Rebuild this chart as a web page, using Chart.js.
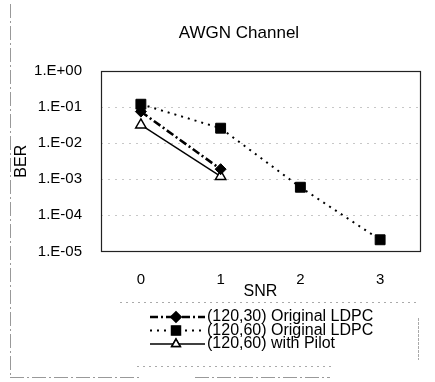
<!DOCTYPE html>
<html>
<head>
<meta charset="utf-8">
<script src="https://cdn.jsdelivr.net/npm/chart.js@4/dist/chart.umd.min.js"></script>
<style>
html,body{margin:0;padding:0;background:#fff;}
#wrap{position:relative;width:435px;height:382px;}
</style>
</head>
<body>
<div id="wrap"><canvas id="c" width="435" height="382"></canvas></div>
<script>
const categories = ['0', '1', '2', '3'];
const seriesNames = ['(120,30) Original LDPC', '(120,60) Original LDPC', '(120,60) with Pilot'];
const ldpc12030 = [0.075, 0.0019, null, null];
const ldpc12060 = [0.12, 0.026, 0.0006, 0.000021];
const pilot12060 = [0.032, 0.0012, null, null];
const yTickValues = [1, 0.1, 0.01, 0.001, 0.0001, 0.00001];
const yTickLabels = ['1.E+00', '1.E-01', '1.E-02', '1.E-03', '1.E-04', '1.E-05'];
const chartTitle = 'AWGN Channel';

const FONT = "'Liberation Sans', Arial, sans-serif";

const framePlugin = {
  id: 'frame',
  afterDraw(chart) {
    const ctx = chart.ctx;
    const a = chart.chartArea;
    ctx.save();
    // title
    ctx.fillStyle = '#000';
    ctx.font = '17px ' + FONT;
    ctx.textAlign = 'center';
    ctx.textBaseline = 'middle';
    ctx.fillText(chartTitle, 239, 33);
    // plot border
    ctx.strokeStyle = '#222';
    ctx.lineWidth = 1.2;
    ctx.setLineDash([]);
    ctx.strokeRect(Math.round(a.left) + 0.5, Math.round(a.top) + 0.5, Math.round(a.right - a.left), Math.round(a.bottom - a.top));
    // faint outer scan frame
    ctx.strokeStyle = '#999';
    ctx.lineWidth = 1;
    ctx.setLineDash([14, 3, 2, 3]);
    ctx.beginPath();
    ctx.moveTo(10.5, 4); ctx.lineTo(10.5, 377);
    ctx.moveTo(10, 377.5); ctx.lineTo(140, 377.5);
    ctx.moveTo(195, 377.5); ctx.lineTo(330, 377.5);
    ctx.stroke();
    // legend box (faint)
    ctx.strokeStyle = '#aaa';
    ctx.setLineDash([2, 4]);
    ctx.beginPath();
    ctx.moveTo(120, 302.5); ctx.lineTo(420, 302.5);
    ctx.moveTo(137, 366.5); ctx.lineTo(333, 366.5);
    ctx.stroke();
    ctx.setLineDash([3, 1]);
    ctx.beginPath();
    ctx.moveTo(418.5, 318); ctx.lineTo(418.5, 360);
    ctx.stroke();
    // legend
    const rows = [317, 330.5, 344];
    const x0 = 150, x1 = 205, xm = 176;
    chart.data.datasets.forEach((ds, i) => {
      const y = rows[i];
      ctx.save();
      ctx.strokeStyle = ds.borderColor;
      ctx.lineWidth = ds.borderWidth;
      ctx.setLineDash(ds.borderDash || []);
      ctx.beginPath();
      ctx.moveTo(x0, y); ctx.lineTo(x1, y);
      ctx.stroke();
      ctx.setLineDash([]);
      Chart.helpers.drawPoint(ctx, {
        pointStyle: ds.pointStyle,
        radius: ds.pointRadius - 1,
        borderWidth: ds.pointBorderWidth,
        rotation: 0
      }, xm, y);
      ctx.fillStyle = ds.pointBackgroundColor;
      ctx.strokeStyle = ds.pointBorderColor;
      ctx.lineWidth = ds.pointBorderWidth;
      ctx.fill();
      ctx.stroke();
      ctx.restore();
      ctx.fillStyle = '#000';
      ctx.font = '16px ' + FONT;
      ctx.textBaseline = 'middle';
      ctx.textAlign = 'left';
      ctx.fillText(ds.label, 207, y);
    });
    ctx.restore();
  }
};

new Chart(document.getElementById('c'), {
  type: 'line',
  data: {
    labels: categories,
    datasets: [
      {
        label: seriesNames[0], data: ldpc12030,
        borderColor: '#000', borderWidth: 2.6, borderDash: [8, 3, 2, 3],
        pointStyle: 'rectRot', pointRadius: 5.5, pointBackgroundColor: '#000', pointBorderColor: '#000', pointBorderWidth: 1,
        fill: false, tension: 0, spanGaps: false
      },
      {
        label: seriesNames[1], data: ldpc12060,
        borderColor: '#000', borderWidth: 2, borderDash: [2, 5],
        pointStyle: 'rect', pointRadius: 7, pointBackgroundColor: '#000', pointBorderColor: '#000', pointBorderWidth: 1,
        fill: false, tension: 0
      },
      {
        label: seriesNames[2], data: pilot12060,
        borderColor: '#000', borderWidth: 1.4, borderDash: [],
        pointStyle: 'triangle', pointRadius: 6, pointBackgroundColor: '#fff', pointBorderColor: '#000', pointBorderWidth: 1.5,
        fill: false, tension: 0
      }
    ]
  },
  options: {
    responsive: false,
    animation: false,
    devicePixelRatio: 1,
    layout: { padding: { top: 71, right: 15, bottom: 81, left: 0 } },
    plugins: {
      legend: { display: false },
      tooltip: { enabled: false },
      title: { display: false }
    },
    scales: {
      x: {
        type: 'category',
        offset: true,
        grid: { display: false, drawTicks: false },
        border: { display: false },
        ticks: { color: '#000', font: { family: FONT, size: 15 }, padding: 19 },
        title: {
          display: true, text: 'SNR', color: '#000',
          font: { family: FONT, size: 16 }, padding: { top: 0, bottom: 0 }
        },
        afterFit(s) { s.height = 49.6; }
      },
      y: {
        type: 'logarithmic',
        min: 0.00001,
        max: 1,
        grid: {
          display: true, drawTicks: false,
          color: 'rgba(0,0,0,0.22)', lineWidth: 1
        },
        border: { display: false, dash: [2, 5] },
        afterBuildTicks(s) { s.ticks = yTickValues.map(v => ({ value: v })); },
        ticks: {
          color: '#000', font: { family: FONT, size: 15 }, padding: 19,
          callback(v) {
            const i = yTickValues.findIndex(t => Math.abs(Math.log10(t) - Math.log10(v)) < 1e-6);
            return i >= 0 ? yTickLabels[i] : '';
          }
        },
        title: {
          display: true, text: 'BER', color: '#000',
          font: { family: FONT, size: 16 }, padding: { top: 12.4, bottom: 0 }
        },
        afterFit(s) { s.width = 101; }
      }
    }
  },
  plugins: [framePlugin]
});
</script>
</body>
</html>
